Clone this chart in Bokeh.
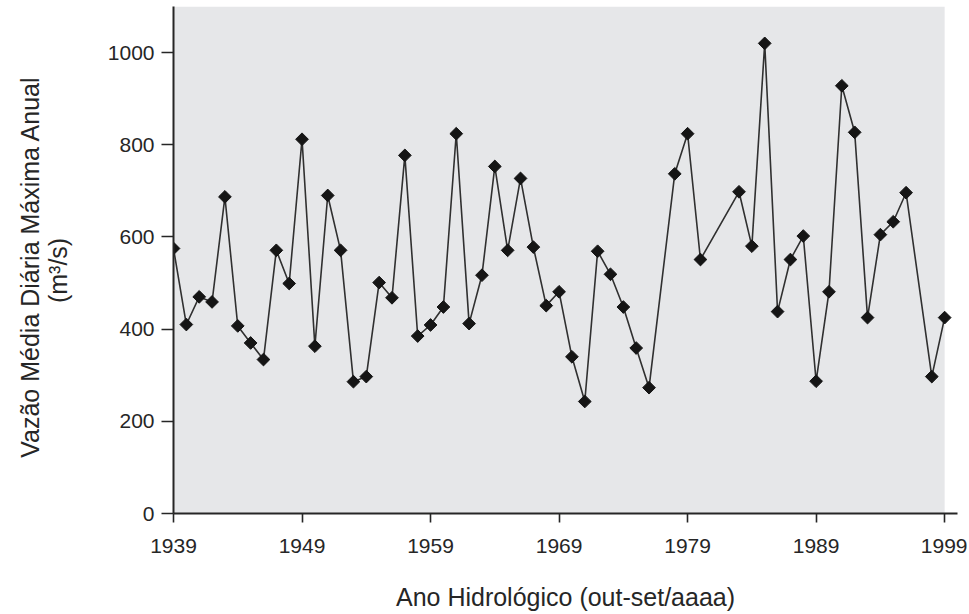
from bokeh.plotting import figure
from bokeh.models import BoxAnnotation, FixedTicker, Range1d
from bokeh.embed import file_html
from bokeh.resources import INLINE
import math

years = [1939, 1940, 1941, 1942, 1943, 1944, 1945, 1946, 1947, 1948,
         1949, 1950, 1951, 1952, 1953, 1954, 1955, 1956, 1957, 1958,
         1959, 1960, 1961, 1962, 1963, 1964, 1965, 1966, 1967, 1968,
         1969, 1970, 1971, 1972, 1973, 1974, 1975, 1976, 1978, 1979,
         1980, 1983, 1984, 1985, 1986, 1987, 1988, 1989, 1990, 1991,
         1992, 1993, 1994, 1995, 1996, 1998, 1999]
flows = [575, 410, 470, 459, 687, 407, 370, 334, 571, 499,
         812, 363, 690, 571, 286, 297, 501, 468, 777, 385,
         409, 448, 824, 412, 517, 753, 571, 727, 578, 451,
         481, 340, 243, 569, 519, 448, 359, 273, 737, 824,
         551, 698, 580, 1020, 438, 551, 602, 287, 481, 928,
         827, 425, 605, 633, 696, 297, 425]
x_ticks = [1939, 1949, 1959, 1969, 1979, 1989, 1999]
y_ticks = [0, 200, 400, 600, 800, 1000]

FONT = "Liberation Sans"
INK = "#262626"
NB = "\u00a0"

p = figure(width=967, height=614, output_backend="svg", toolbar_location=None,
           x_range=Range1d(1939, 2000), y_range=Range1d(0, 1100),
           min_border_left=173, min_border_right=10, min_border_top=6,
           min_border_bottom=101)
p.outline_line_color = None
p.background_fill_color = "white"
p.border_fill_color = "white"
p.grid.visible = False

p.add_layout(BoxAnnotation(left=1939, right=1999, bottom=0, top=1100,
                           fill_color="#e6e7e9", fill_alpha=1.0,
                           line_alpha=0, level="underlay"))

p.line(years, flows, line_color="#303030", line_width=1.6)
p.scatter(years, flows, marker="square", angle=math.pi / 4, size=9,
          fill_color="#151515", line_color="#151515")

for ax in (p.xaxis[0], p.yaxis[0]):
    ax.axis_line_color = INK
    ax.axis_line_width = 2
    ax.major_tick_line_color = INK
    ax.major_tick_line_width = 1.6
    ax.minor_tick_line_color = None
    ax.major_tick_in = 0
    ax.major_label_text_font = FONT
    ax.major_label_text_font_size = "21px"
    ax.major_label_text_color = INK
    ax.axis_label_text_font = FONT
    ax.axis_label_text_font_size = "25px"
    ax.axis_label_text_font_style = "normal"
    ax.axis_label_text_color = INK

p.xaxis.ticker = FixedTicker(ticks=x_ticks)
p.yaxis.ticker = FixedTicker(ticks=y_ticks)
p.xaxis.major_tick_out = 9
p.yaxis.major_tick_out = 12
p.xaxis.major_label_standoff = 16
p.yaxis.major_label_standoff = 7
p.xaxis.axis_label = "Ano Hidrológico (out-set/aaaa)"
p.yaxis.axis_label = ("Vazão Média Diária Máxima Anual" + NB * 2 + "\n"
                      + "(m³/s)" + NB * 3)
p.yaxis.axis_label_text_line_height = 1.0
p.xaxis.axis_label_standoff = 27
p.yaxis.axis_label_standoff = 33

open("out.html", "w").write(file_html(p, INLINE))
